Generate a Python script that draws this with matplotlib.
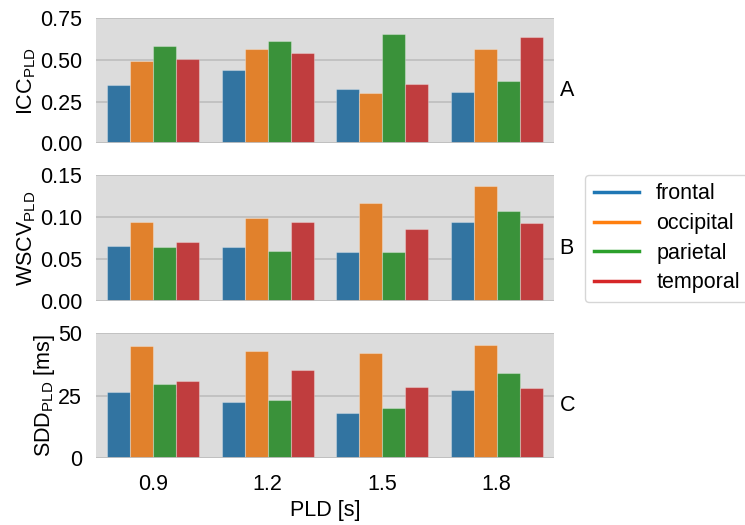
import matplotlib
matplotlib.use("Agg")
import matplotlib.pyplot as plt
from matplotlib.lines import Line2D
import numpy as np

plt.rcParams['font.family'] = ['Liberation Sans', 'DejaVu Sans']
plt.rcParams['mathtext.default'] = 'regular'
plt.rcParams['font.size'] = 15.5

# data
pld = ['0.9', '1.2', '1.5', '1.8']
regions = ['frontal', 'occipital', 'parietal', 'temporal']

icc_frontal = [0.351, 0.438, 0.327, 0.307]
icc_occipital = [0.494, 0.565, 0.299, 0.565]
icc_parietal = [0.583, 0.613, 0.652, 0.373]
icc_temporal = [0.506, 0.543, 0.357, 0.639]

wscv_frontal = [0.066, 0.065, 0.059, 0.095]
wscv_occipital = [0.094, 0.099, 0.117, 0.137]
wscv_parietal = [0.065, 0.060, 0.059, 0.108]
wscv_temporal = [0.071, 0.094, 0.086, 0.093]

sdd_frontal = [26.5, 22.7, 18.1, 27.5]
sdd_occipital = [45.0, 42.8, 42.3, 45.3]
sdd_parietal = [29.9, 23.5, 20.3, 34.3]
sdd_temporal = [30.9, 35.2, 28.5, 28.0]

bar_colors = ['#3274a1', '#e1812c', '#3a923a', '#c03d3e']
line_colors = ['#1f77b4', '#ff7f0e', '#2ca02c', '#d62728']

panels = [
    ([icc_frontal, icc_occipital, icc_parietal, icc_temporal],
     'ICC$_{PLD}$', [0, 0.25, 0.5, 0.75], ['0.00', '0.25', '0.50', '0.75'], 'A'),
    ([wscv_frontal, wscv_occipital, wscv_parietal, wscv_temporal],
     'WSCV$_{PLD}$', [0, 0.05, 0.1, 0.15], ['0.00', '0.05', '0.10', '0.15'], 'B'),
    ([sdd_frontal, sdd_occipital, sdd_parietal, sdd_temporal],
     'SDD$_{PLD}$ [ms]', [0, 25, 50], ['0', '25', '50'], 'C'),
]

fig = plt.figure(figsize=(7.45, 5.25), dpi=100)
left, width = 0.1289, 0.6147
boxes = [(0.727, 0.2387), (0.426, 0.24), (0.127, 0.2381)]

x = np.arange(len(pld))
bw = 0.8 / len(regions)
axes = []
for (series, ylab, yt, ytl, tag), (b, h) in zip(panels, boxes):
    ax = fig.add_axes([left, b, width, h])
    ax.set_facecolor('#dcdcdc')
    for i, vals in enumerate(series):
        ax.bar(x - 0.4 + bw * (i + 0.5), vals, width=bw, color=bar_colors[i],
               edgecolor=(1, 1, 1, 0.3), linewidth=0.8, zorder=2)
    ax.set_xlim(-0.5, 3.5)
    ax.set_ylim(yt[0], yt[-1])
    ax.set_yticks(yt)
    ax.set_yticklabels(ytl)
    ax.yaxis.grid(True, color='#c0c0c0', linewidth=1.3, zorder=1)
    ax.set_axisbelow(True)
    for s in ax.spines.values():
        s.set_visible(False)
    ax.axhline(yt[0], color='#c0c0c0', linewidth=1.3, zorder=3)
    ax.tick_params(length=0, pad=10)
    ax.set_ylabel(ylab, labelpad=1)
    ax.text(1.012, 0.42, tag, transform=ax.transAxes, va='center', ha='left')
    ax.set_xticks(x)
    ax.set_xticklabels([])
    axes.append(ax)

axes[-1].set_xticklabels(pld)
axes[-1].tick_params(axis='x', pad=11)
axes[-1].set_xlabel('PLD [s]', labelpad=4)

handles = [Line2D([0], [0], color=c, linewidth=2.5) for c in line_colors]
leg = axes[1].legend(handles, regions, loc='center left', bbox_to_anchor=(1.068, 0.5),
                     borderaxespad=0, handlelength=2.1, handletextpad=0.8,
                     labelspacing=0.4, frameon=True, fancybox=True)
leg.get_frame().set_edgecolor('#cccccc')

fig.savefig('out.png', dpi=100)
